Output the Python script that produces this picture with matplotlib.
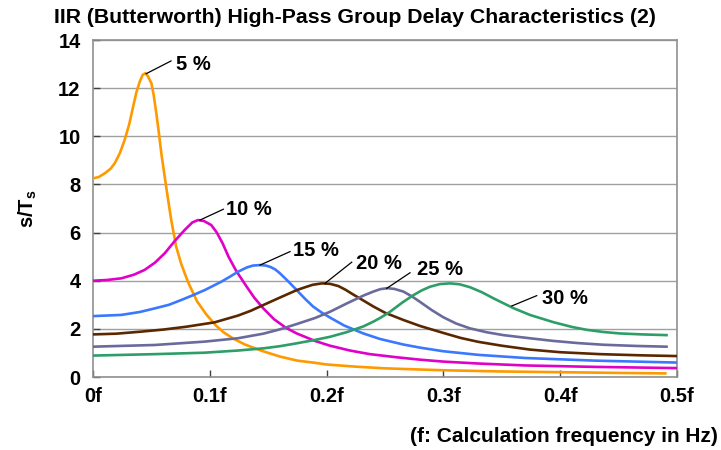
import matplotlib
matplotlib.use("Agg")
import matplotlib.pyplot as plt

plt.rcParams['font.family'] = ['Liberation Sans', 'DejaVu Sans']
plt.rcParams['font.weight'] = 'bold'

# (x in units of f, y in s/Ts)
x_5 = [0, 0.005, 0.010, 0.015, 0.0186, 0.023, 0.0271, 0.031, 0.0342, 0.037, 0.040, 0.0425,
       0.0448, 0.047, 0.050, 0.052, 0.0542, 0.0565, 0.0585, 0.0607, 0.0628, 0.0667, 0.071,
       0.0755, 0.0813, 0.089, 0.097, 0.105, 0.112, 0.12, 0.13, 0.145, 0.16, 0.175, 0.19,
       0.20, 0.225, 0.25, 0.30, 0.35, 0.40, 0.45, 0.49]
y_5 = [8.25, 8.31, 8.46, 8.65, 8.88, 9.3, 9.85, 10.5, 11.2, 11.8, 12.27, 12.55,
       12.62, 12.5, 12.2, 11.7, 10.96, 10.1, 9.29, 8.55, 7.85, 6.6, 5.45,
       4.7, 3.95, 3.15, 2.6, 2.15, 1.85, 1.6, 1.35, 1.08, 0.85, 0.68, 0.59,
       0.52, 0.43, 0.36, 0.28, 0.23, 0.2, 0.17, 0.15]

x_10 = [0, 0.012, 0.0243, 0.035, 0.0442, 0.053, 0.0614, 0.07, 0.0785, 0.085, 0.0899, 0.095,
        0.1013, 0.106, 0.111, 0.116, 0.1227, 0.1316, 0.138, 0.1458, 0.155, 0.165, 0.1744,
        0.19, 0.2029, 0.22, 0.237, 0.26, 0.28, 0.30, 0.33, 0.37, 0.43, 0.5]
y_10 = [4.0, 4.03, 4.10, 4.25, 4.45, 4.75, 5.14, 5.65, 6.11, 6.42, 6.52, 6.48,
        6.31, 6.0, 5.55, 5.0, 4.4, 3.75, 3.3, 2.85, 2.4, 2.05, 1.81,
        1.5, 1.3, 1.1, 0.95, 0.82, 0.72, 0.64, 0.56, 0.48, 0.42, 0.37]

x_15 = [0, 0.0243, 0.04, 0.0528, 0.065, 0.0756, 0.0856, 0.0956, 0.1099, 0.1173, 0.124,
        0.1316, 0.137, 0.143, 0.148, 0.152, 0.156, 0.160, 0.167, 0.1744, 0.1815, 0.1886,
        0.1957, 0.2029, 0.215, 0.2314, 0.2457, 0.2657, 0.28, 0.30, 0.33, 0.37, 0.43, 0.5]
y_15 = [2.53, 2.58, 2.7, 2.85, 3.0, 3.2, 3.4, 3.61, 3.96, 4.17, 4.37,
        4.55, 4.63, 4.65, 4.63, 4.57, 4.47, 4.31, 3.98, 3.61, 3.25, 2.92,
        2.68, 2.47, 2.14, 1.81, 1.58, 1.35, 1.22, 1.07, 0.92, 0.79, 0.68, 0.60]

x_20 = [0, 0.02, 0.04, 0.06, 0.08, 0.104, 0.124, 0.135, 0.1458, 0.16, 0.1744, 0.181,
        0.188, 0.196, 0.203, 0.21, 0.216, 0.222, 0.23, 0.24, 0.25, 0.2657, 0.28, 0.30,
        0.315, 0.33, 0.35, 0.374, 0.40, 0.434, 0.47, 0.5]
y_20 = [1.77, 1.8, 1.88, 1.97, 2.09, 2.27, 2.55, 2.75, 2.99, 3.3, 3.61, 3.72,
        3.83, 3.89, 3.87, 3.78, 3.63, 3.45, 3.22, 2.93, 2.67, 2.37, 2.12, 1.83,
        1.62, 1.46, 1.3, 1.14, 1.03, 0.95, 0.9, 0.87]

x_25 = [0, 0.0528, 0.0956, 0.124, 0.1458, 0.16, 0.1744, 0.19, 0.2029, 0.217, 0.2314, 0.24,
        0.246, 0.252, 0.258, 0.2657, 0.273, 0.28, 0.29, 0.30, 0.311, 0.3228, 0.337,
        0.3513, 0.374, 0.394, 0.415, 0.437, 0.465, 0.491]
y_25 = [1.26, 1.33, 1.47, 1.61, 1.8, 1.98, 2.2, 2.45, 2.71, 3.05, 3.38, 3.55,
        3.65, 3.69, 3.66, 3.55, 3.35, 3.12, 2.78, 2.48, 2.22, 2.02, 1.86,
        1.74, 1.61, 1.50, 1.41, 1.34, 1.29, 1.26]

x_30 = [0, 0.0528, 0.0956, 0.124, 0.1458, 0.16, 0.1744, 0.19, 0.2029, 0.217, 0.2314, 0.24,
        0.2457, 0.254, 0.265, 0.2743, 0.2815, 0.2885, 0.297, 0.3057, 0.314, 0.3228, 0.333,
        0.3428, 0.352, 0.36, 0.374, 0.394, 0.41, 0.4227, 0.437, 0.451, 0.47, 0.491]
y_30 = [0.89, 0.95, 1.01, 1.1, 1.19, 1.28, 1.40, 1.54, 1.67, 1.86, 2.1, 2.3,
        2.45, 2.7, 3.1, 3.4, 3.6, 3.75, 3.86, 3.89, 3.85, 3.73, 3.52,
        3.27, 3.05, 2.86, 2.58, 2.28, 2.08, 1.96, 1.87, 1.81, 1.77, 1.74]

series = [
    (x_5, y_5, '#FF9900', '5 %'),
    (x_10, y_10, '#E000C8', '10 %'),
    (x_15, y_15, '#3A78FF', '15 %'),
    (x_20, y_20, '#5A2800', '20 %'),
    (x_25, y_25, '#6A6A9C', '25 %'),
    (x_30, y_30, '#2E9E68', '30 %'),
]

# label: (leader start, leader end, text pos)
label_pos = {
    '5 %': ((0.0455, 12.6), (0.0668, 13.13), (0.071, 13.0)),
    '10 %': ((0.0916, 6.52), (0.1116, 6.97), (0.114, 6.97)),
    '15 %': ((0.143, 4.65), (0.1687, 5.21), (0.171, 5.25)),
    '20 %': ((0.1986, 3.89), (0.2215, 4.77), (0.225, 4.72)),
    '25 %': ((0.2514, 3.68), (0.2714, 4.33), (0.277, 4.47)),
    '30 %': ((0.3585, 2.95), (0.3799, 3.38), (0.384, 3.27)),
}

fig = plt.figure(figsize=(7.21, 4.5), dpi=100)
ax = fig.add_axes([0.129, 0.1622, 0.81, 0.7489])

for xs, ys, c, name in series:
    ax.plot(xs, ys, color=c, lw=1.9, solid_joinstyle='round', zorder=3)
    p0, p1, pt = label_pos[name]
    ax.plot([p0[0], p1[0]], [p0[1], p1[1]], color='black', lw=0.9, zorder=4)
    ax.text(pt[0], pt[1], name, fontsize=14.5, fontweight='bold', va='center', ha='left')

ax.set_xlim(0, 0.5)
ax.set_ylim(0, 14)
ax.set_xticks([0, 0.1, 0.2, 0.3, 0.4, 0.5])
ax.set_xticklabels(['0f', '0.1f', '0.2f', '0.3f', '0.4f', '0.5f'])
ax.set_yticks(range(0, 15, 2))
ax.yaxis.grid(True, color='#a0a0a0', lw=1.0)
ax.set_axisbelow(True)
for s in ax.spines.values():
    s.set_color('#909090')
    s.set_linewidth(1.2)
ax.tick_params(direction='in', length=5, width=1, color='#404040', labelsize=14.5)
ax.tick_params(axis='x', pad=7)
ax.tick_params(axis='y', pad=9)
for lab in ax.get_xticklabels() + ax.get_yticklabels():
    lab.set_fontweight('bold')

ax.set_title('IIR (Butterworth) High-Pass Group Delay Characteristics (2)',
             fontsize=15.3, fontweight='bold', x=0.449, pad=12)
ax.set_ylabel('s/T$_\\mathregular{s}$', fontsize=14.5, fontweight='bold', labelpad=14)
fig.text(0.996, 0.031, '(f: Calculation frequency in Hz)', fontsize=15,
         fontweight='bold', ha='right', va='center')

fig.savefig('out.png', dpi=100)
